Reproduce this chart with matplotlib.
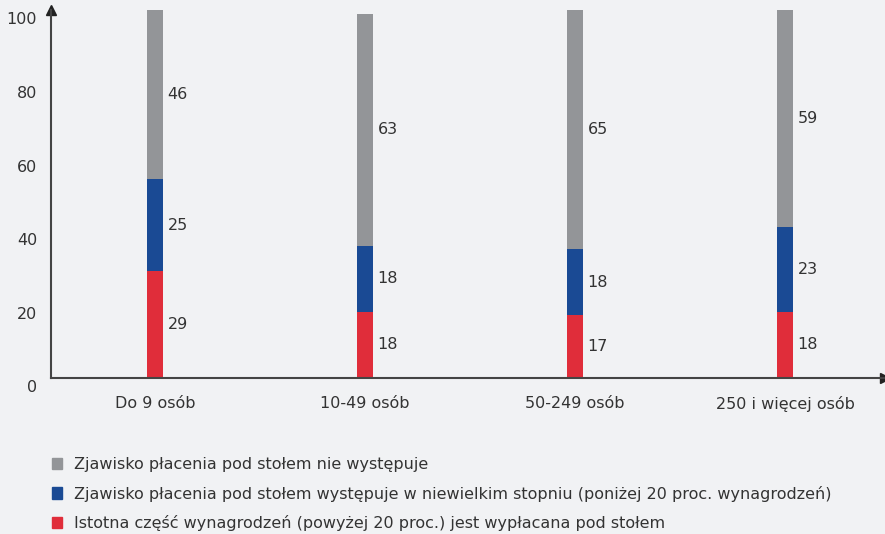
import matplotlib.pyplot as plt
import matplotlib.transforms as mtransforms
from matplotlib.patches import Patch
import numpy as np

categories = ['Do 9 osób', '10-49 osób', '50-249 osób', '250 i więcej osób']
red_vals = [29, 18, 17, 18]
blue_vals = [25, 18, 18, 23]
gray_vals = [46, 63, 65, 59]
series_names = ['Zjawisko płacenia pod stołem nie występuje',
                'Zjawisko płacenia pod stołem występuje w niewielkim stopniu (poniżej 20 proc. wynagrodzeń)',
                'Istotna część wynagrodzeń (powyżej 20 proc.) jest wypłacana pod stołem']
y_ticks = [0, 20, 40, 60, 80, 100]

bg = '#f1f2f4'
c_red = '#e02d3a'
c_blue = '#1a4a94'
c_gray = '#939598'
txt = '#333333'
fs = 11.5

plt.rcParams['font.family'] = ['DejaVu Sans']

fig = plt.figure(figsize=(8.85, 5.34), dpi=100, facecolor=bg)
ax = fig.add_axes([51 / 885, 156 / 534, 834 / 885, 368 / 534])
ax.set_facecolor(bg)

x = np.arange(len(categories))
w = 0.072
ax.bar(x, red_vals, w, color=c_red)
ax.bar(x, blue_vals, w, bottom=red_vals, color=c_blue)
bottom2 = np.array(red_vals) + np.array(blue_vals)
ax.bar(x, gray_vals, w, bottom=bottom2, color=c_gray)

for i in range(len(categories)):
    ax.text(x[i] + 0.06, red_vals[i] / 2, str(red_vals[i]), va='center', ha='left', fontsize=fs, color=txt)
    ax.text(x[i] + 0.06, red_vals[i] + blue_vals[i] / 2, str(blue_vals[i]), va='center', ha='left', fontsize=fs, color=txt)
    ax.text(x[i] + 0.06, bottom2[i] + gray_vals[i] / 2, str(gray_vals[i]), va='center', ha='left', fontsize=fs, color=txt)

ax.set_xlim(-0.495, 3.476)
ax.set_ylim(0, 100)
ax.set_xticks(x)
ax.set_xticklabels(categories, fontsize=fs, color=txt)
ax.set_yticks(y_ticks)
ax.set_yticklabels([str(t) for t in y_ticks], fontsize=fs, color=txt)
ax.tick_params(axis='x', length=0, pad=13)
ax.tick_params(axis='y', length=0, pad=10)
offset = mtransforms.ScaledTranslation(0, -6 / 72, fig.dpi_scale_trans)
for lbl in ax.get_yticklabels():
    lbl.set_transform(lbl.get_transform() + offset)

for s in ['top', 'right']:
    ax.spines[s].set_visible(False)
for s in ['left', 'bottom']:
    ax.spines[s].set_color('#444444')
    ax.spines[s].set_linewidth(1.5)

ax.plot(0, 1.0, marker='^', color='#222222', markersize=7, transform=ax.transAxes, clip_on=False)
ax.plot(1.0, 0, marker='>', color='#222222', markersize=7, transform=ax.transAxes, clip_on=False)

handles = [Patch(color=c_gray), Patch(color=c_blue), Patch(color=c_red)]
fig.legend(handles, series_names, loc='upper left', bbox_to_anchor=(52 / 885, 1 - 457 / 534),
           frameon=False, fontsize=fs, handlelength=0.6, handleheight=0.75, handletextpad=0.75,
           labelspacing=0.85, labelcolor=txt, borderpad=0, borderaxespad=0)

fig.savefig('out.png', dpi=100, facecolor=bg)
